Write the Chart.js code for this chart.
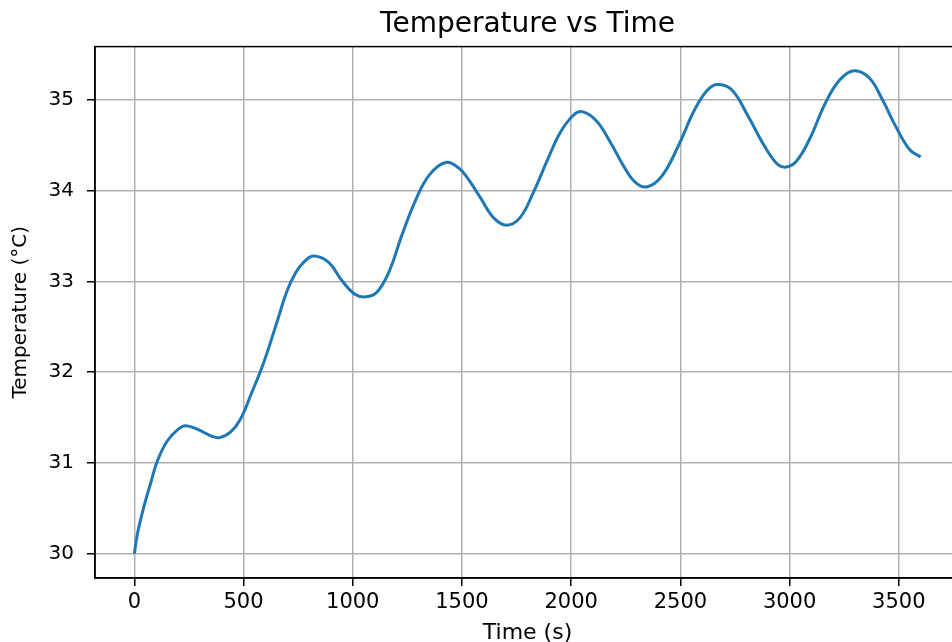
<!DOCTYPE html>
<html>
<head>
<meta charset="utf-8">
<script src="https://cdn.jsdelivr.net/npm/chart.js@4.4.1/dist/chart.umd.min.js"></script>
<style>
  html, body { margin: 0; padding: 0; background: #fff; }
  #wrap { width: 952px; height: 642px; overflow: hidden; position: relative; }
  canvas { display: block; }
</style>
</head>
<body>
<div id="wrap"><canvas id="line-chart" width="980" height="650"></canvas></div>
<script>
// readings taken off the reference plot
const times = [0, 15, 45, 75, 105, 150, 200, 235, 290, 350, 390, 440, 485, 535, 590, 650,
  700, 740, 775, 820, 890, 950, 1010, 1060, 1110, 1165, 1225, 1285, 1350, 1425, 1485, 1525, 1585,
  1645, 1705, 1765, 1825, 1890, 1950, 2010, 2050, 2115, 2180, 2240, 2290, 2345, 2415, 2490,
  2565, 2625, 2670, 2735, 2810, 2885, 2945, 2985, 3030, 3090, 3165, 3230, 3295, 3365, 3425,
  3485, 3550, 3600];
const temps = [30.00, 30.23, 30.53, 30.78, 31.02, 31.24, 31.37, 31.41, 31.37, 31.30, 31.28, 31.34,
  31.48, 31.76, 32.09, 32.53, 32.90, 33.10, 33.21, 33.28, 33.21, 33.01, 32.86, 32.83, 32.88,
  33.10, 33.51, 33.88, 34.17, 34.31, 34.25, 34.14, 33.92, 33.70, 33.62, 33.70, 33.97, 34.33,
  34.64, 34.83, 34.87, 34.77, 34.53, 34.27, 34.10, 34.04, 34.16, 34.49, 34.89, 35.11, 35.17,
  35.11, 34.82, 34.49, 34.29, 34.26, 34.32, 34.56, 34.97, 35.22, 35.32, 35.24, 35.00, 34.71,
  34.45, 34.37];
const xTicks = [0, 500, 1000, 1500, 2000, 2500, 3000, 3500];
const yTicks = [30, 31, 32, 33, 34, 35];

const points = times.map((t, i) => ({x: t, y: temps[i]}));
const font = 'DejaVu Sans';

// matplotlib draws a full box round the axes
const boxPlugin = {
  id: 'box',
  afterDraw(chart) {
    const a = chart.chartArea, ctx = chart.ctx;
    ctx.save();
    ctx.strokeStyle = '#000';
    ctx.lineWidth = 1.5;
    ctx.strokeRect(a.left, a.top, a.right - a.left, a.bottom - a.top);
    ctx.restore();
  }
};

new Chart(document.getElementById('line-chart'), {
  type: 'line',
  data: {
    datasets: [{
      data: points,
      borderColor: '#1f77b4',
      borderWidth: 3,
      pointRadius: 0,
      fill: false,
      tension: 0.4
    }]
  },
  options: {
    responsive: false,
    animation: false,
    devicePixelRatio: 1,
    layout: {padding: {left: 0, right: 20, top: 0, bottom: 0}},
    plugins: {
      legend: {display: false},
      tooltip: {enabled: false},
      title: {
        display: true,
        fullSize: false,
        text: 'Temperature vs Time',
        color: '#000',
        font: {family: font, size: 28, weight: 'normal'},
        padding: {top: 8, bottom: 5}
      }
    },
    scales: {
      x: {
        type: 'linear',
        min: -180,
        max: 3780,
        afterBuildTicks: s => { s.ticks = xTicks.map(v => ({value: v})); },
        afterFit: s => { s.height = 72; },
        ticks: {
          color: '#000',
          padding: 4,
          maxRotation: 0,
          font: {family: font, size: 21},
          callback: v => String(v)
        },
        grid: {color: '#b0b0b0', lineWidth: 1.5, tickLength: 8, tickColor: '#000', tickWidth: 1.5},
        border: {display: true, color: '#000', width: 1.5},
        title: {
          display: true,
          text: 'Time (s)',
          color: '#000',
          font: {family: font, size: 22},
          padding: {top: 0, bottom: 4}
        }
      },
      y: {
        min: 29.734,
        max: 35.586,
        afterBuildTicks: s => { s.ticks = yTicks.map(v => ({value: v})); },
        afterFit: s => { s.width = 95; },
        ticks: {
          color: '#000',
          padding: 13,
          font: {family: font, size: 20},
          callback: v => String(v)
        },
        grid: {color: '#b0b0b0', lineWidth: 1.5, tickLength: 8, tickColor: '#000', tickWidth: 1.5},
        border: {display: true, color: '#000', width: 1.5},
        title: {
          display: true,
          text: 'Temperature (°C)',
          color: '#000',
          font: {family: font, size: 20},
          padding: {top: 9, bottom: 0}
        }
      }
    }
  },
  plugins: [boxPlugin]
});
</script>
</body>
</html>
